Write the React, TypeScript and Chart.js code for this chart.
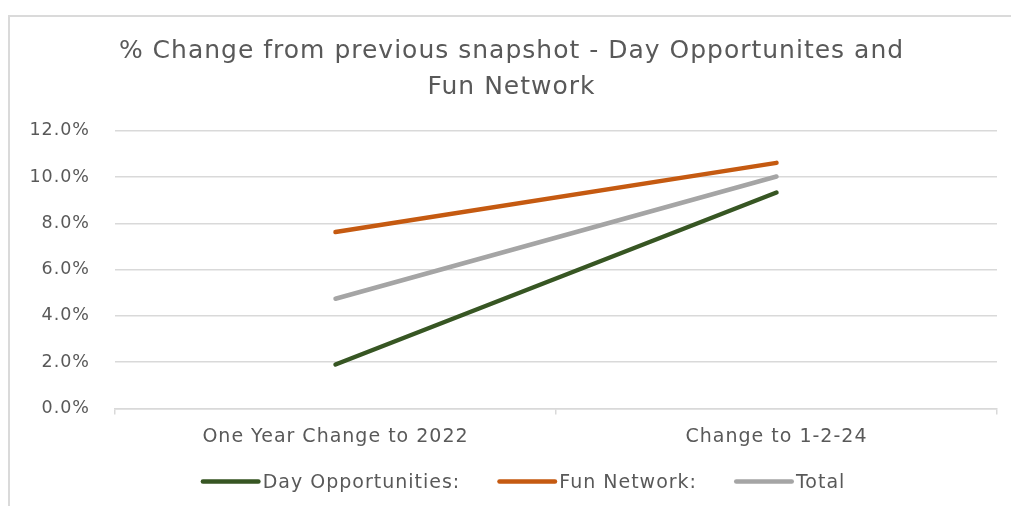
import React, { useEffect, useRef } from "react";
import { Chart, registerables } from "chart.js";

Chart.register(...registerables);

const categories = ["One Year Change to 2022", "Change to 1-2-24"];
const dayOpportunities = [1.9, 9.33];
const funNetwork = [7.62, 10.61];
const total = [4.74, 10.02];
const seriesNames = ["Day Opportunities:", "Fun Network:", "Total"];
const seriesColors = ["#375623", "#C55A11", "#A5A5A5"];
const titleLines = ["% Change from previous snapshot - Day Opportunites and", "Fun Network"];

const TEXT = "#595959";
const GRID = "#d9d9d9";
const FONT = "'DejaVu Sans', sans-serif";
const LETTER_SPACING = "1px";

const spacingPlugin = {
  id: "spacing",
  beforeUpdate(chart: any) {
    chart.ctx.letterSpacing = LETTER_SPACING;
  },
  beforeLayout(chart: any) {
    chart.ctx.letterSpacing = LETTER_SPACING;
  },
  beforeDraw(chart: any) {
    chart.ctx.letterSpacing = LETTER_SPACING;
  },
};

const legendPlugin = {
  id: "lineLegend",
  afterDraw(chart: any) {
    const ctx = chart.ctx as CanvasRenderingContext2D;
    ctx.save();
    ctx.letterSpacing = LETTER_SPACING;
    ctx.font = `19px ${FONT}`;
    const lineLen = 60;
    const gapText = 2;
    const gapItem = 37;
    const items = chart.data.datasets.map((d: any) => ({
      label: d.label as string,
      color: d.borderColor as string,
      w: ctx.measureText(d.label).width,
    }));
    const totalW =
      items.reduce((a: number, it: any) => a + lineLen + gapText + it.w, 0) +
      gapItem * (items.length - 1);
    const center = (chart.chartArea.left + chart.chartArea.right) / 2 - 33;
    let x = center - totalW / 2;
    const baseY = chart.height - 18;
    const lineY = baseY - 6.5;
    for (const it of items) {
      ctx.strokeStyle = it.color;
      ctx.lineWidth = 4.5;
      ctx.lineCap = "round";
      ctx.beginPath();
      ctx.moveTo(x + 2.25, lineY);
      ctx.lineTo(x + lineLen - 2.25, lineY);
      ctx.stroke();
      ctx.fillStyle = TEXT;
      ctx.textAlign = "left";
      ctx.textBaseline = "alphabetic";
      ctx.fillText(it.label, x + lineLen + gapText, baseY);
      x += lineLen + gapText + it.w + gapItem;
    }
    ctx.restore();
  },
};

export default function App() {
  const ref = useRef<HTMLCanvasElement | null>(null);

  useEffect(() => {
    if (!ref.current) return;
    const mk = (label: string, data: number[], color: string) => ({
      label,
      data,
      borderColor: color,
      backgroundColor: color,
      borderWidth: 4.5,
      borderCapStyle: "round" as const,
      borderJoinStyle: "round" as const,
      pointRadius: 0,
      pointHoverRadius: 0,
      tension: 0,
    });
    const chart = new Chart(ref.current, {
      type: "line",
      data: {
        labels: categories,
        datasets: [
          mk(seriesNames[0], dayOpportunities, seriesColors[0]),
          mk(seriesNames[1], funNetwork, seriesColors[1]),
          mk(seriesNames[2], total, seriesColors[2]),
        ],
      },
      plugins: [spacingPlugin, legendPlugin],
      options: {
        responsive: false,
        animation: false,
        layout: { padding: { left: 26, right: 14, top: 0, bottom: 49.5 } },
        plugins: {
          tooltip: { enabled: false },
          legend: { display: false },
          title: {
            display: true,
            text: titleLines,
            color: TEXT,
            font: { family: FONT, size: 25, weight: "normal", lineHeight: 1.42 },
            padding: { top: 34, bottom: 25.7 },
          },
        },
        scales: {
          x: {
            offset: true,
            grid: {
              offset: true,
              drawOnChartArea: false,
              drawTicks: true,
              tickLength: 6,
              color: GRID,
              lineWidth: 1.5,
            },
            border: { display: true, color: GRID, width: 1.5 },
            ticks: {
              color: TEXT,
              font: { family: FONT, size: 19 },
              padding: 11,
              maxRotation: 0,
            },
            afterFit: (s: any) => {
              s.height = 48;
            },
          },
          y: {
            min: 0,
            max: 12,
            ticks: {
              stepSize: 2,
              color: TEXT,
              font: { family: FONT, size: 17.5 },
              padding: 25,
              callback: (v: any) => Number(v).toFixed(1) + "%",
            },
            grid: { color: GRID, lineWidth: 1.5, drawTicks: false },
            border: { display: false },
            afterFit: (s: any) => {
              s.width = 89;
            },
          },
        },
      },
    });
    return () => chart.destroy();
  }, []);

  return (
    <div
      style={{
        position: "fixed",
        left: 0,
        top: 0,
        width: 1011,
        height: 506,
        overflow: "hidden",
        background: "#fff",
      }}
    >
      <div
        style={{
          position: "absolute",
          left: 8,
          top: 15,
          width: 1100,
          height: 600,
          border: "2px solid #dadada",
          boxSizing: "border-box",
        }}
      />
      <canvas
        ref={ref}
        width={1011}
        height={506}
        style={{ position: "absolute", left: 0, top: 0, width: 1011, height: 506 }}
      />
    </div>
  );
}
